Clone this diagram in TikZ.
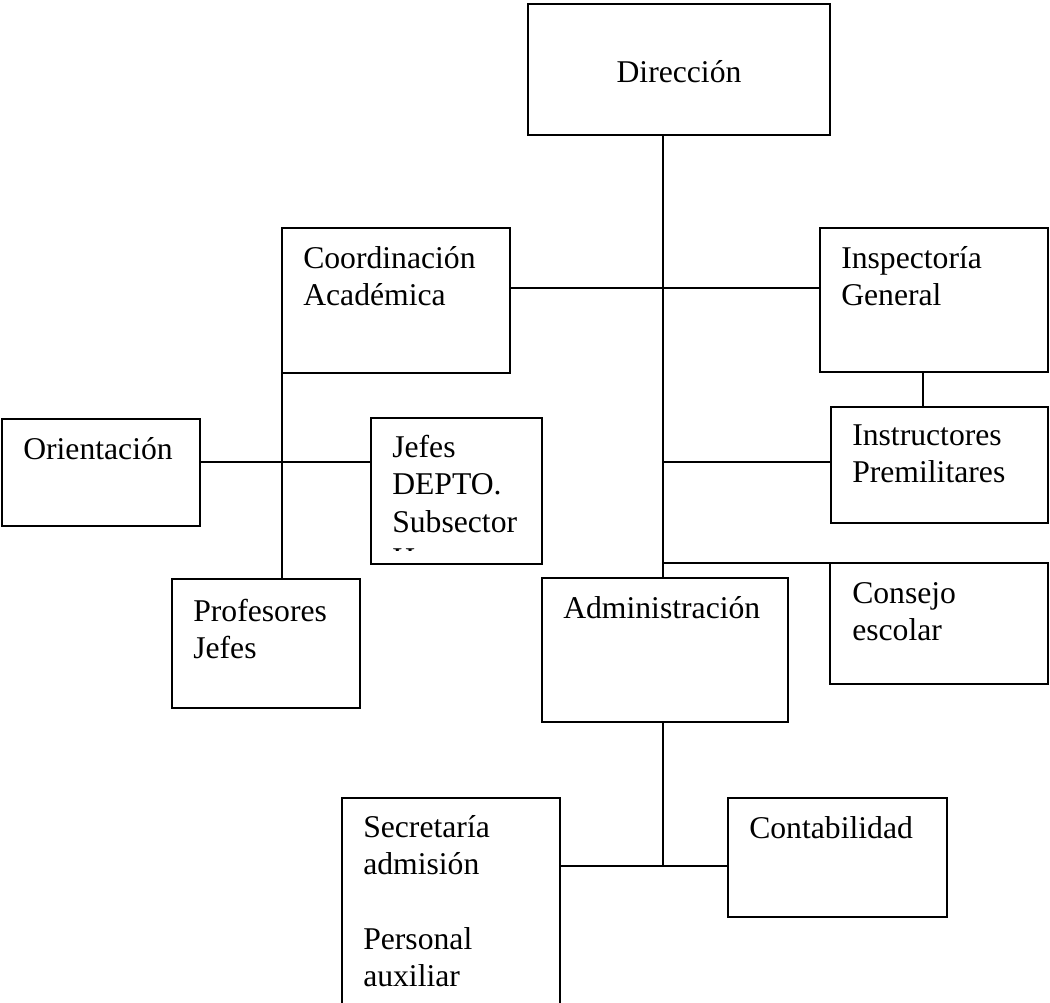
\documentclass[tikz,border=0pt]{standalone}
\usepackage{fontspec}
\setmainfont{Liberation Serif}
\usetikzlibrary{fit, positioning}

\tikzset{
    orgbox/.style={draw, line width=1.1pt, inner sep=0pt, outer sep=0pt},
    lbl/.style={anchor=north west, inner sep=0pt, align=left, font=\fontsize{23.75}{28}\selectfont},
    link/.style={line width=0.9pt}
}

\begin{document}
\begin{tikzpicture}[x=0.75pt, y=-0.75pt]
        \useasboundingbox (0,0) rectangle (1050,1003);
        \clip (0,0) rectangle (1050,1003);

        % boxes
        \node (dir) [orgbox, fit={(528,4) (830,135)}] {};
        \node (coord) [orgbox, fit={(282,228) (510,373)}] {};
        \node (insp) [orgbox, fit={(820,228) (1048,372)}] {};
        \node (orient) [orgbox, fit={(2,419) (200,526)}] {};
        \node (jefes) [orgbox, fit={(371,418) (542,564)}] {};
        \node (instr) [orgbox, fit={(831,407) (1048,523)}] {};
        \node (prof) [orgbox, fit={(172,579) (360,708)}] {};
        \node (admin) [orgbox, fit={(542,578) (788,722)}] {};
        \node (consejo) [orgbox, fit={(830,563) (1048,684)}] {};
        \node (secre) [orgbox, fit={(342,798) (560,1030)}] {};
        \node (conta) [orgbox, fit={(728,798) (947,917)}] {};

        % texts
        \node (dirT) [lbl, anchor=base] at (679,82) {Dirección};
        \node (coordT) [lbl] at ([shift={(21,14)}]coord.north west) {\strut Coordinación\\Académica};
        \node (inspT) [lbl] at ([shift={(21,14)}]insp.north west) {\strut Inspectoría\\General};
        \node (orientT) [lbl] at ([shift={(21,14)}]orient.north west) {\strut Orientación};
        \begin{scope}
            \clip (jefes.north west) rectangle (542,550);
            \node (jefesT) [lbl] at ([shift={(21,13)}]jefes.north west) {\strut Jefes\\DEPTO.\\Subsector\\H};
        \end{scope}
        \node (instrT) [lbl] at ([shift={(21,12)}]instr.north west) {\strut Instructores\\Premilitares};
        \node (profT) [lbl] at ([shift={(21,16)}]prof.north west) {\strut Profesores\\Jefes};
        \node (adminT) [lbl] at ([shift={(21,14)}]admin.north west) {\strut Administración};
        \node (consejoT) [lbl] at ([shift={(22,14)}]consejo.north west) {\strut Consejo\\escolar};
        \node (secreT) [lbl] at ([shift={(21,13)}]secre.north west) {\strut Secretaría\\admisión\\[28pt]Personal\\auxiliar};
        \node (contaT) [lbl] at ([shift={(21,14)}]conta.north west) {\strut Contabilidad};

        % connectors
        \coordinate (hubA) at (663,288);
        \coordinate (hubB) at (282,462);
        \coordinate (hubC) at (663,462);
        \coordinate (hubD) at (663,563);
        \coordinate (hubE) at (663,866);
        \coordinate (hubF) at (923,372);

        \draw [link] (dir.south -| hubA) -- (admin.north -| hubA);
        \draw [link] (hubA -| coord.east) -- (hubA -| insp.west);
        \draw [link] (coord.south west) -- (coord.south west |- prof.north);
        \draw [link] (hubB -| orient.east) -- (hubB -| jefes.west);
        \draw [link] (hubF) -- (hubF |- instr.north);
        \draw [link] (hubC) -- (hubC -| instr.west);
        \draw [link] (hubD) -- (consejo.north west);
        \draw [link] (admin.south -| hubE) -- (hubE);
        \draw [link] (hubE -| secre.east) -- (hubE -| conta.west);
    \end{tikzpicture}
\end{document}
